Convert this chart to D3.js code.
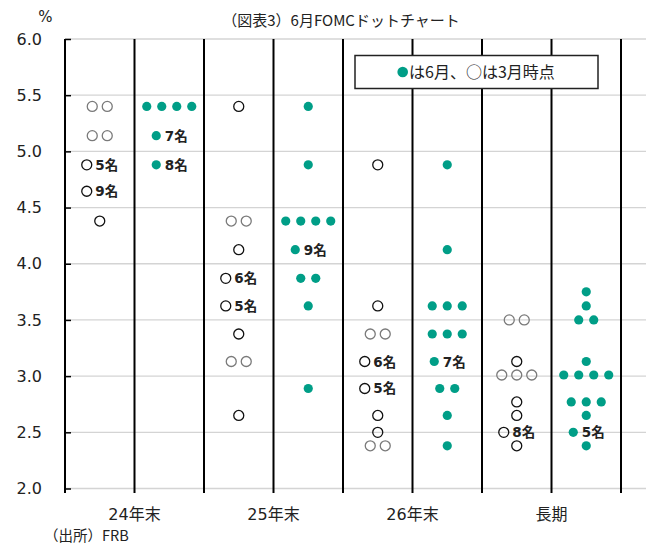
<!DOCTYPE html>
<html><head><meta charset="utf-8">
<script src="https://cdn.jsdelivr.net/npm/d3@7"></script>
<style>
body{margin:0;background:#fff}
svg{display:block}
text{font-family:"DejaVu Sans","Noto Sans CJK JP",sans-serif;fill:#222}
</style></head><body>
<svg id="chart" width="649" height="546"></svg>
<script>
// Horizons and the two survey rounds shown for each
const categories = ["24年末", "25年末", "26年末", "長期"];
const meetings = ["3月", "6月"];
const yTicks = [2.0, 2.5, 3.0, 3.5, 4.0, 4.5, 5.0, 5.5, 6.0];

// [policy rate %, participants] per horizon — March projections (open dots)
const marchDots = [
  [[5.40, 2], [5.14, 2], [4.88, 5], [4.645, 9], [4.38, 1]],
  [[5.40, 1], [4.38, 2], [4.125, 1], [3.87, 6], [3.625, 5], [3.375, 1], [3.13, 2], [2.65, 1]],
  [[4.88, 1], [3.625, 1], [3.375, 2], [3.13, 6], [2.89, 5], [2.65, 1], [2.5, 1], [2.38, 2]],
  [[3.5, 2], [3.13, 1], [3.01, 3], [2.77, 1], [2.65, 1], [2.5, 8], [2.38, 1]]
];
// June projections (filled dots)
const juneDots = [
  [[5.40, 4], [5.14, 7], [4.88, 8]],
  [[5.40, 1], [4.88, 1], [4.38, 4], [4.125, 9], [3.87, 2], [3.625, 1], [2.89, 1]],
  [[4.88, 1], [4.125, 1], [3.625, 3], [3.375, 3], [3.13, 7], [2.89, 2], [2.65, 1], [2.38, 1]],
  [[3.75, 1], [3.625, 1], [3.5, 2], [3.13, 1], [3.01, 4], [2.77, 3], [2.65, 1], [2.5, 5], [2.38, 1]]
];

const TEAL = "#009e87";
const svg = d3.select("#chart");

const x = d3.scaleBand().domain(categories).range([65, 621]);
const sub = d3.scaleBand().domain(meetings).range([0, x.bandwidth()]);
const y = d3.scaleLinear().domain([2, 6]).range([488.5, 39]);

// horizontal grid
svg.append("g").selectAll("line").data(yTicks).join("line")
  .attr("x1", 65).attr("x2", 646)
  .attr("y1", d => y(d)).attr("y2", d => y(d))
  .attr("stroke", "#d4d4d4").attr("stroke-width", 1.3);

// y axis with inward ticks
const yAxis = d3.axisLeft(y).tickValues(yTicks).tickFormat(d3.format(".1f"))
  .tickSizeInner(-6).tickSizeOuter(0).tickPadding(23);
const ga = svg.append("g").attr("transform", "translate(65,0)").call(yAxis);
ga.select(".domain").remove();
ga.selectAll(".tick line").attr("stroke", "#000").attr("stroke-width", 1.5);
ga.selectAll(".tick text").attr("font-size", 16).attr("fill", "#222")
  .style("font-family", '"DejaVu Sans",sans-serif');

// vertical separators between every column
const bounds = categories.flatMap(c => meetings.map(m => x(c) + sub(m))).concat([x.range()[1]]);
svg.append("g").selectAll("line").data(bounds).join("line")
  .attr("x1", d => d).attr("x2", d => d)
  .attr("y1", y(6)).attr("y2", y(2) + 4.5)
  .attr("stroke", "#000").attr("stroke-width", 2);

// category labels
svg.append("g").selectAll("text").data(categories).join("text")
  .attr("x", d => x(d) + x.bandwidth() / 2).attr("y", 520)
  .attr("text-anchor", "middle").attr("font-size", 16).text(d => d);

// dots
function drawRows(rowsByCat, meeting, filled) {
  const g = svg.append("g");
  rowsByCat.forEach((rows, ci) => {
    const cx = x(categories[ci]) + sub(meeting) + sub.bandwidth() / 2;
    rows.forEach(([v, n]) => {
      const cy = y(v);
      const dot = (px, grey) => {
        const c = g.append("circle").attr("cx", px).attr("cy", cy);
        if (filled) c.attr("r", 4.6).attr("fill", TEAL);
        else c.attr("r", 5).attr("fill", "none")
          .attr("stroke", grey ? "#7a7a7a" : "#111").attr("stroke-width", 1.3);
      };
      if (n >= 5) {
        dot(cx - 13, false);
        g.append("text").attr("x", cx - 4.5).attr("y", cy + 5)
          .attr("font-size", 13.5).attr("font-weight", "bold").attr("fill", "#111")
          .text(n + "名");
      } else {
        for (let i = 0; i < n; i++) dot(cx + (i - (n - 1) / 2) * 15, n > 1);
      }
    });
  });
}
drawRows(marchDots, "3月", false);
drawRows(juneDots, "6月", true);

// legend
const lg = svg.append("g");
lg.append("rect").attr("x", 355).attr("y", 55.5).attr("width", 243).attr("height", 33)
  .attr("fill", "#fff").attr("stroke", "#222").attr("stroke-width", 1.5);
lg.append("circle").attr("cx", 402.7).attr("cy", 72).attr("r", 5.3).attr("fill", TEAL);
lg.append("text").attr("x", 409).attr("y", 78).attr("font-size", 16)
  .style("font-family", '"Noto Sans CJK JP",sans-serif').text("は6月、○は3月時点");

// titles and notes
svg.append("text").attr("x", 341).attr("y", 26).attr("text-anchor", "middle")
  .attr("font-size", 15).style("font-family", '"Noto Sans CJK JP",sans-serif')
  .text("（図表3）6月FOMCドットチャート");
svg.append("text").attr("x", 45.5).attr("y", 22).attr("text-anchor", "middle")
  .attr("font-size", 15).text("%");
svg.append("text").attr("x", 44).attr("y", 541).attr("font-size", 14.5)
  .style("font-family", '"Noto Sans CJK JP",sans-serif')
  .text("（出所）FRB");
</script>
</body></html>
